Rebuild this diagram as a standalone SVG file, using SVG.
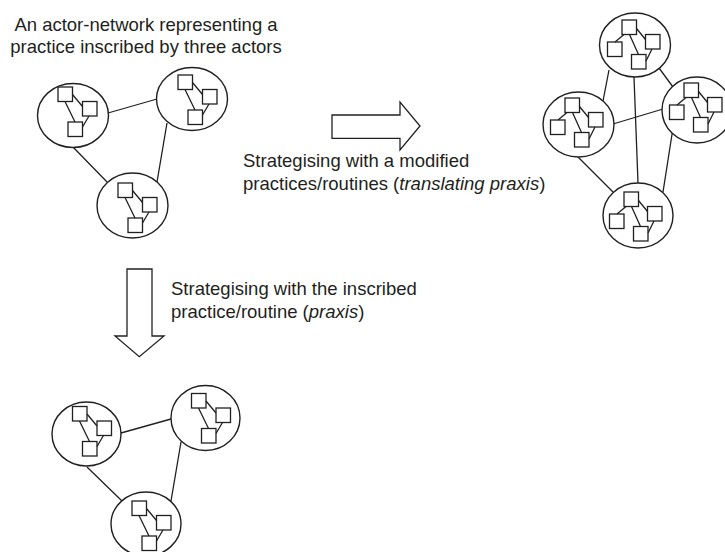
<svg xmlns="http://www.w3.org/2000/svg" width="725" height="552" viewBox="0 0 725 552">
<style>
.s{fill:none;stroke:#231f20;stroke-width:1.3}
.e{fill:#fff;stroke:#231f20;stroke-width:1.4}
.a{fill:#fff;stroke:#231f20;stroke-width:1.3;stroke-linejoin:miter}
.t{font-family:"Liberation Sans",Arial,sans-serif;font-size:18.5px;fill:#231f20}
</style>
<defs>
<g id="tri">
<path class="s" d="M7,14.5L17,35M14.5,7.5L24.5,19.5M31,29L24.5,40"/>
<rect class="s" x="0" y="0" width="14.5" height="14.5"/>
<rect class="s" x="24.5" y="14.5" width="14.5" height="14.5"/>
<rect class="s" x="10" y="35" width="14.5" height="14.5"/>
</g>
<g id="quad">
<path class="s" d="M2,14.5L-7,22M7.5,14.5L16.5,34.5M14.5,8.5L23.5,19.5M30,29L24,41"/>
<rect class="s" x="0" y="0" width="14.5" height="14.5"/>
<rect class="s" x="-14.5" y="22" width="14.5" height="14.5"/>
<rect class="s" x="23.5" y="14.5" width="14.5" height="14.5"/>
<rect class="s" x="9.5" y="34.5" width="14.5" height="14.5"/>
</g>
</defs>

<g id="connectors">
<path class="s" d="M108,113L157,99M73,147L107,182M167,123L157,182"/>
<path class="s" d="M121,433L171,419M87,467L122,501M181,442L171,501"/>
<path class="s" d="M609,70L603,101M634,77L638,183M659,68L673,87M613,124L663,109M673,128L663,192M578,157L613,192"/>
</g>

<g id="arrow-right"><path class="a" d="M332,115H400V102L420,126L400,150V138.3H332Z"/></g>
<g id="arrow-down"><path class="a" d="M127,269H152V336H164L139.3,356.7L115,336H127Z"/></g>

<g id="tl-a"><ellipse class="e" cx="73" cy="115.5" rx="35.5" ry="32"/><use href="#tri" x="58" y="87"/></g>
<g id="tl-b"><ellipse class="e" cx="192" cy="99" rx="35.5" ry="31.5"/><use href="#tri" x="178" y="75"/></g>
<g id="tl-c"><ellipse class="e" cx="132.5" cy="205.5" rx="35.5" ry="32.5"/><use href="#tri" x="118" y="183"/></g>

<g id="bl-a"><ellipse class="e" cx="86.5" cy="434" rx="34.5" ry="32"/><use href="#tri" x="72.5" y="406.5"/></g>
<g id="bl-b"><ellipse class="e" cx="205.5" cy="418" rx="34.5" ry="32.5"/><use href="#tri" x="191.5" y="393.5"/></g>
<g id="bl-c"><ellipse class="e" cx="146" cy="524" rx="35" ry="32"/><use href="#tri" x="132" y="501"/></g>

<g id="r-top"><ellipse class="e" cx="635" cy="45" rx="35.5" ry="32"/><use href="#quad" x="622" y="20"/></g>
<g id="r-left"><ellipse class="e" cx="578.5" cy="124.5" rx="35.5" ry="32.5"/><use href="#quad" x="565" y="98"/></g>
<g id="r-right"><ellipse class="e" cx="697" cy="110" rx="35" ry="33"/><use href="#quad" x="684" y="83"/></g>
<g id="r-bottom"><ellipse class="e" cx="638" cy="215.5" rx="35" ry="32.5"/><use href="#quad" x="624" y="192"/></g>

<g id="labels">
<text class="t" x="146" y="31" text-anchor="middle">An actor-network representing a</text>
<text class="t" x="146" y="53" text-anchor="middle">practice inscribed by three actors</text>
<text class="t" x="243" y="167">Strategising with a modified</text>
<text class="t" x="243" y="190">practices/routines (<tspan font-style="italic">translating praxis</tspan>)</text>
<text class="t" x="171" y="295">Strategising with the inscribed</text>
<text class="t" x="171" y="318">practice/routine (<tspan font-style="italic">praxis</tspan>)</text>
</g>
</svg>
